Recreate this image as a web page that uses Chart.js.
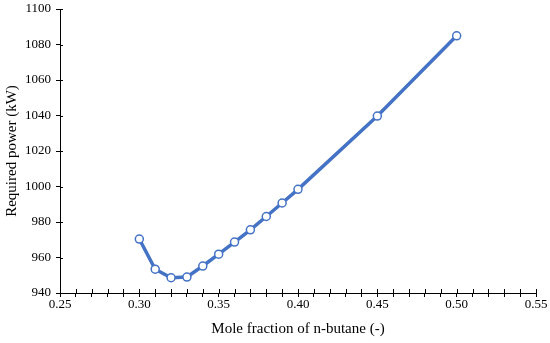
<!DOCTYPE html>
<html>
<head>
<meta charset="utf-8">
<script src="https://cdn.jsdelivr.net/npm/chart.js@4.4.0/dist/chart.umd.min.js"></script>
<style>
  html, body { margin: 0; padding: 0; background: #fff; }
  #wrap { width: 550px; height: 343px; }
</style>
</head>
<body>
<div id="wrap"><canvas id="chart"></canvas></div>
<script>
// mole fraction of n-butane (-)
var moleFraction = [0.30, 0.31, 0.32, 0.33, 0.34, 0.35, 0.36, 0.37, 0.38, 0.39, 0.40, 0.45, 0.50];
// required power (kW)
var requiredPower = [970.4, 953.4, 948.6, 949.0, 955.2, 961.9, 968.7, 975.6, 983.1, 990.7, 998.4, 1039.7, 1084.9];

var xMin = 0.25, xMax = 0.55, xMinorStep = 0.01, xMajorEvery = 5;
var yMin = 940, yMax = 1100, yStep = 20;

var punkti = moleFraction.map(function (x, i) {
    return { x: x, y: requiredPower[i] };
});

// ticks cross the axis line: draw the inner part here
var unutarnjiTickovi = {
    id: 'unutarnjiTickovi',
    afterDraw: function (chart) {
        var ctx = chart.ctx;
        var area = chart.chartArea;
        var sx = chart.scales.x, sy = chart.scales.y;
        ctx.save();
        ctx.strokeStyle = '#000';
        ctx.lineWidth = 1;
        ctx.beginPath();
        sx.ticks.forEach(function (t) {
            var px = Math.round(sx.getPixelForValue(t.value)) + 0.5;
            ctx.moveTo(px, area.bottom);
            ctx.lineTo(px, area.bottom - 4);
        });
        sy.ticks.forEach(function (t) {
            var py = Math.round(sy.getPixelForValue(t.value)) + 0.5;
            ctx.moveTo(area.left, py);
            ctx.lineTo(area.left + 3, py);
        });
        ctx.stroke();
        ctx.restore();
    }
};

var fontTimes = "'Liberation Serif', 'Times New Roman', serif";

var ctx = document.getElementById('chart').getContext('2d');
var myLineChart = new Chart(ctx, {
    type: 'line',
    data: {
        datasets: [{
            data: punkti,
            borderColor: '#4472C4',
            borderWidth: 3.5,
            pointRadius: 4,
            pointBackgroundColor: '#fff',
            pointBorderColor: '#4472C4',
            pointBorderWidth: 1.5,
            tension: 0
        }]
    },
    options: {
        responsive: true,
        maintainAspectRatio: false,
        animation: false,
        layout: { padding: { top: 9, right: 14, left: 3, bottom: 0 } },
        plugins: {
            legend: { display: false },
            tooltip: { enabled: false }
        },
        scales: {
            x: {
                type: 'linear',
                min: xMin,
                max: xMax,
                afterBuildTicks: function (scale) {
                    var t = [];
                    var n = Math.round((xMax - xMin) / xMinorStep);
                    for (var i = 0; i <= n; i++) {
                        t.push({ value: +(xMin + i * xMinorStep).toFixed(2) });
                    }
                    scale.ticks = t;
                },
                afterFit: function (scale) { scale.height = 50; },
                ticks: {
                    autoSkip: false,
                    maxRotation: 0,
                    padding: 0,
                    color: '#000',
                    font: { family: fontTimes, size: 13 },
                    callback: function (v) {
                        return Math.round(v * 100) % xMajorEvery === 0 ? v.toFixed(2) : '';
                    }
                },
                grid: { drawOnChartArea: false, tickLength: 4, color: '#000' },
                border: { color: '#000', width: 1 },
                title: {
                    display: true,
                    text: 'Mole fraction of n-butane (-)',
                    color: '#000',
                    font: { family: fontTimes, size: 15 },
                    padding: { top: 0, bottom: 5 }
                }
            },
            y: {
                min: yMin,
                max: yMax,
                afterFit: function (scale) {
                    scale.width = 57;
                    scale.paddingTop = 0;
                    scale.paddingBottom = 0;
                },
                ticks: {
                    stepSize: yStep,
                    padding: 5,
                    color: '#000',
                    font: { family: fontTimes, size: 13 },
                    callback: function (v) { return String(v); }
                },
                grid: { drawOnChartArea: false, tickLength: 4, color: '#000' },
                border: { color: '#000', width: 1 },
                title: {
                    display: true,
                    text: 'Required power (kW)',
                    color: '#000',
                    font: { family: fontTimes, size: 15 },
                    padding: { top: 0, bottom: 2 }
                }
            }
        }
    },
    plugins: [unutarnjiTickovi]
});
</script>
</body>
</html>
